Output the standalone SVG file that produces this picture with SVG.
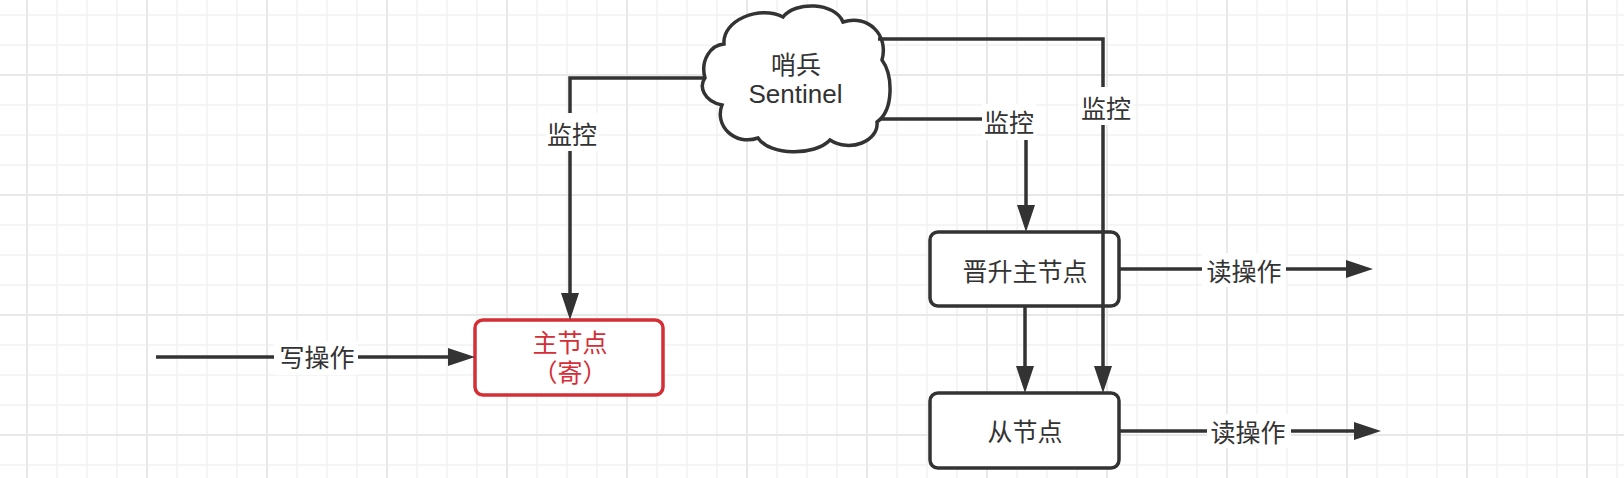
<svg xmlns="http://www.w3.org/2000/svg" width="1624" height="478" viewBox="0 0 1624 478">
<defs>
<style>
.t{font-family:"Liberation Sans","Noto Sans CJK SC",sans-serif;font-size:25px;fill:#333333;text-anchor:middle}
.red{fill:#d42f36}
.box{fill:#ffffff;stroke:#333333;stroke-width:3.5}
.rbox{fill:#ffffff;stroke:#d42f36;stroke-width:3.5}
.edge{fill:none;stroke:#333333;stroke-width:3.5}
.bg{fill:#ffffff}
</style>
<pattern id="grid" x="12" y="60" width="120" height="120" patternUnits="userSpaceOnUse">
<rect x="0" y="0" width="120" height="120" fill="#ffffff"/>
<g fill="#f2f2f2">
<rect x="44.25" y="0" width="1.5" height="120"/>
<rect x="74.25" y="0" width="1.5" height="120"/>
<rect x="104.25" y="0" width="1.5" height="120"/>
<rect x="0" y="44.25" width="120" height="1.5"/>
<rect x="0" y="74.25" width="120" height="1.5"/>
<rect x="0" y="104.25" width="120" height="1.5"/>
</g>
<g fill="#e8e8e8">
<rect x="14" y="0" width="2" height="120"/>
<rect x="0" y="14" width="120" height="2"/>
</g>
</pattern>
<marker id="arr" viewBox="0 0 28 18" markerWidth="28" markerHeight="18" refX="1" refY="9" orient="auto" markerUnits="userSpaceOnUse">
<path d="M0,0 L27,9 L0,18 Z" fill="#333333"/>
</marker>
</defs>
<rect x="0" y="0" width="1624" height="478" fill="url(#grid)"/>

<g id="sentinel">
<path class="box" d="M705,78 C700,60 711,45 724,44 C722,20 760,5 783,17 C795,1 835,2 843,22 C868,14 889,35 882,60 C893,75 894,110 877,122 C879,141 850,153 830,140 C815,156 770,156 758,138 C735,146 714,126 722,105 C703,101 699,86 705,78 Z"/>
<text class="t" x="796" y="73.5">哨兵</text>
<text class="t" x="795.5" y="103" style="font-size:26px">Sentinel</text>
</g>

<g id="master">
<rect class="rbox" x="475" y="320" width="188" height="75" rx="8" ry="8"/>
<text class="t red" x="570" y="352">主节点</text>
<text class="t red" x="570" y="382">（寄）</text>
</g>

<g id="promoted">
<rect class="box" x="930" y="232" width="189" height="74" rx="8" ry="8"/>
<text class="t" x="1025" y="280.5">晋升主节点</text>
</g>

<g id="slave">
<rect class="box" x="930" y="393" width="189" height="75" rx="8" ry="8"/>
<text class="t" x="1025" y="441">从节点</text>
</g>

<g id="connectors">
<path class="edge" d="M156,357 H449" marker-end="url(#arr)"/>
<rect class="bg" x="274" y="341" width="84" height="34"/>
<text class="t" x="317" y="367">写操作</text>

<path class="edge" d="M705,78 H570 V294" marker-end="url(#arr)"/>
<rect class="bg" x="546" y="113" width="52" height="38"/>
<text class="t" x="572" y="143.5">监控</text>

<path class="edge" d="M880,119 H1026 V206" marker-end="url(#arr)"/>
<rect class="bg" x="982" y="104" width="54" height="36"/>
<text class="t" x="1009" y="131.5">监控</text>

<path class="edge" d="M878,39 H1103 V367" marker-end="url(#arr)"/>
<rect class="bg" x="1079" y="87" width="54" height="38"/>
<text class="t" x="1106" y="117.5">监控</text>

<path class="edge" d="M1025,306 V367" marker-end="url(#arr)"/>

<path class="edge" d="M1119,269 H1347" marker-end="url(#arr)"/>
<rect class="bg" x="1202" y="253" width="84" height="34"/>
<text class="t" x="1244" y="280.5">读操作</text>

<path class="edge" d="M1119,431 H1355" marker-end="url(#arr)"/>
<rect class="bg" x="1207" y="414" width="84" height="34"/>
<text class="t" x="1248" y="441.5">读操作</text>
</g>
</svg>
